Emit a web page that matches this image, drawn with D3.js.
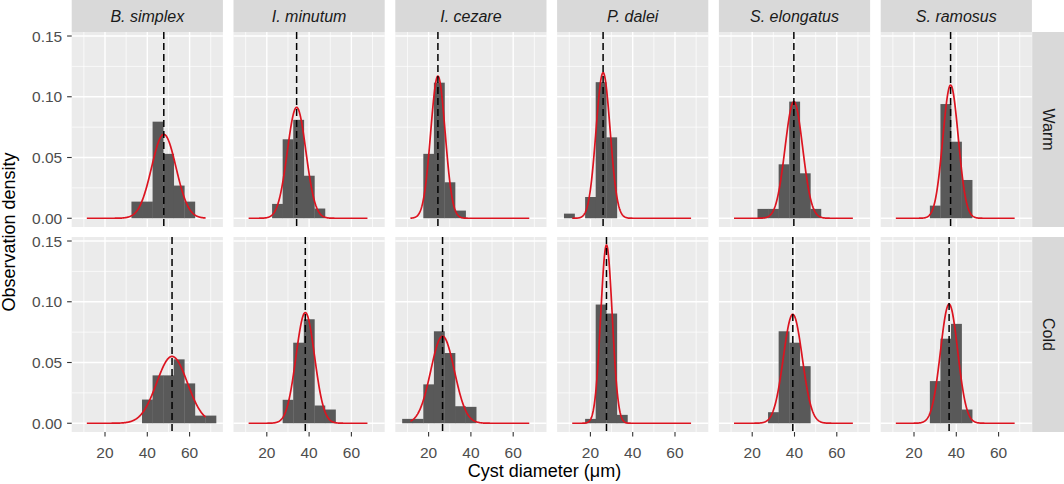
<!DOCTYPE html>
<html>
<head>
<meta charset="utf-8">
<script src="https://cdn.jsdelivr.net/npm/d3@7"></script>
<style>
  html, body { margin: 0; padding: 0; background: #ffffff; }
  svg { display: block; font-family: "Liberation Sans", Arial, sans-serif; }
</style>
</head>
<body>
<svg id="chart" width="1064" height="484"></svg>
<script>
// ---------------- DATA ----------------
const species = ["B. simplex", "I. minutum", "I. cezare", "P. dalei", "S. elongatus", "S. ramosus"];
const conditions = ["Warm", "Cold"];
const binCenters = [10, 15, 20, 25, 30, 35, 40, 45, 50, 55, 60, 65, 70];
const binWidth = 5;

// histogram densities (per species, aligned with binCenters)
const warmDensity = [
  [0, 0, 0, 0, 0, 0.0137, 0.0137, 0.0795, 0.053, 0.0269, 0.0137, 0, 0],      // B. simplex
  [0, 0, 0, 0.0118, 0.065, 0.081, 0.035, 0.008, 0, 0, 0, 0, 0],              // I. minutum
  [0, 0, 0.053, 0.1116, 0.0296, 0.0063, 0, 0, 0, 0, 0, 0, 0],                // I. cezare
  [0.0038, 0, 0.0175, 0.112, 0.0666, 0, 0, 0, 0, 0, 0, 0, 0],                // P. dalei
  [0, 0, 0, 0.0077, 0.0077, 0.0444, 0.096, 0.037, 0.0077, 0, 0, 0, 0],       // S. elongatus
  [0, 0, 0, 0, 0.0104, 0.094, 0.063, 0.0315, 0, 0, 0, 0, 0]                  // S. ramosus
];
const coldDensity = [
  [0, 0, 0, 0, 0, 0, 0.0195, 0.0394, 0.0394, 0.0526, 0.0328, 0.0063, 0.0063], // B. simplex
  [0, 0, 0, 0, 0.0193, 0.0663, 0.0856, 0.0146, 0.0113, 0, 0, 0, 0],           // I. minutum
  [0.0036, 0.0036, 0.032, 0.0757, 0.0578, 0.014, 0.0135, 0, 0, 0, 0, 0, 0],   // I. cezare
  [0, 0, 0.0036, 0.0977, 0.0903, 0.0069, 0, 0, 0, 0, 0, 0, 0],                // P. dalei
  [0, 0, 0, 0, 0.0091, 0.0757, 0.0663, 0.047, 0, 0, 0, 0, 0],                 // S. elongatus
  [0, 0, 0, 0, 0.0347, 0.0696, 0.0818, 0.0113, 0, 0, 0, 0, 0]                 // S. ramosus
];

// fitted normal parameters (mean = dashed line)
const warmMean = [47.8, 34.1, 24.4, 26.0, 39.7, 37.3];
const warmSd   = [5.78, 4.37, 3.41, 3.33, 4.16, 3.64];
const coldMean = [51.7, 38.2, 26.6, 27.6, 39.2, 36.6];
const coldSd   = [7.25, 4.38, 5.57, 2.72, 4.45, 4.07];
const curveRange = [11.4, 67.6];

const xTicks = [20, 40, 60];
const xMinor = [10, 30, 50, 70];
const yTicks = [0, 0.05, 0.10, 0.15];
const yMinor = [0.025, 0.075, 0.125];
const xTitle = "Cyst diameter (\u03BCm)";
const yTitle = "Observation density";

// ---------------- LAYOUT ----------------
const svg = d3.select("#chart");
const panelLeft = 71.7, panelW = 151.2, gapX = 10.6;
const panelTops = [32, 237], panelH = 195;
const stripH = 32, stripW = 32;

const x = d3.scaleLinear().domain([4.25, 75.75]).range([0, panelW]);
const y = d3.scaleLinear().domain([-0.0072, 0.1533]).range([panelH, 0]);

const axisTextColor = "#4D4D4D";
const tickColor = "#333333";
const redCol = "#DC1420";

function normal(v, m, s) {
  return Math.exp(-0.5 * ((v - m) / s) ** 2) / (s * Math.sqrt(2 * Math.PI));
}

const allDensity = [warmDensity, coldDensity];
const allMean = [warmMean, coldMean];
const allSd = [warmSd, coldSd];

conditions.forEach((cond, r) => {
  species.forEach((sp, c) => {
    const px = panelLeft + c * (panelW + gapX);
    const py = panelTops[r];
    const g = svg.append("g").attr("transform", `translate(${px},${py})`);

    // background
    g.append("rect").attr("width", panelW).attr("height", panelH).attr("fill", "#EBEBEB");

    // minor gridlines
    g.selectAll(".xminor").data(xMinor).enter().append("line")
      .attr("x1", d => x(d)).attr("x2", d => x(d)).attr("y1", 0).attr("y2", panelH)
      .attr("stroke", "#FFFFFF").attr("stroke-width", 0.7);
    g.selectAll(".yminor").data(yMinor).enter().append("line")
      .attr("y1", d => y(d)).attr("y2", d => y(d)).attr("x1", 0).attr("x2", panelW)
      .attr("stroke", "#FFFFFF").attr("stroke-width", 0.7);
    // major gridlines
    g.selectAll(".xmajor").data(xTicks).enter().append("line")
      .attr("x1", d => x(d)).attr("x2", d => x(d)).attr("y1", 0).attr("y2", panelH)
      .attr("stroke", "#FFFFFF").attr("stroke-width", 1.4);
    g.selectAll(".ymajor").data(yTicks).enter().append("line")
      .attr("y1", d => y(d)).attr("y2", d => y(d)).attr("x1", 0).attr("x2", panelW)
      .attr("stroke", "#FFFFFF").attr("stroke-width", 1.4);

    // histogram bars
    const dens = allDensity[r][c];
    const bars = binCenters.map((b, i) => ({ b, d: dens[i] })).filter(o => o.d > 0);
    g.selectAll(".bar").data(bars).enter().append("rect")
      .attr("x", d => x(d.b - binWidth / 2))
      .attr("width", d => x(d.b + binWidth / 2) - x(d.b - binWidth / 2) + 0.3)
      .attr("y", d => y(d.d))
      .attr("height", d => y(0) - y(d.d))
      .attr("fill", "#595959");

    // normal curve
    const m = allMean[r][c], s = allSd[r][c];
    const pts = d3.range(0, 301).map(i => {
      const v = curveRange[0] + (curveRange[1] - curveRange[0]) * i / 300;
      return [v, normal(v, m, s)];
    });
    g.append("path").datum(pts)
      .attr("d", d3.line().x(d => x(d[0])).y(d => y(d[1])))
      .attr("fill", "none").attr("stroke", redCol).attr("stroke-width", 1.7);

    // mean dashed line
    g.append("line")
      .attr("x1", x(m)).attr("x2", x(m)).attr("y1", 0).attr("y2", panelH)
      .attr("stroke", "#000000").attr("stroke-width", 1.5)
      .attr("stroke-dasharray", "7,4");

    // top strip
    if (r === 0) {
      svg.append("rect").attr("x", px).attr("y", 0).attr("width", panelW).attr("height", stripH)
        .attr("fill", "#D9D9D9");
      svg.append("text").attr("x", px + panelW / 2).attr("y", stripH / 2).attr("dy", "0.35em")
        .attr("text-anchor", "middle").attr("font-size", 16).attr("font-style", "italic")
        .attr("fill", "#1A1A1A").text(sp);
    }

    // x axis on bottom row
    if (r === 1) {
      const ax = svg.append("g").attr("transform", `translate(${px},${py + panelH})`);
      ax.selectAll("line").data(xTicks).enter().append("line")
        .attr("x1", d => x(d)).attr("x2", d => x(d)).attr("y1", 0).attr("y2", 4.6)
        .attr("stroke", tickColor).attr("stroke-width", 1.1);
      ax.selectAll("text").data(xTicks).enter().append("text")
        .attr("x", d => x(d)).attr("y", 25.5).attr("text-anchor", "middle")
        .attr("font-size", 15.5).attr("fill", axisTextColor).text(d => d);
    }

    // y axis on left column
    if (c === 0) {
      const ay = svg.append("g").attr("transform", `translate(${px},${py})`);
      ay.selectAll("line").data(yTicks).enter().append("line")
        .attr("x1", -4.6).attr("x2", 0).attr("y1", d => y(d)).attr("y2", d => y(d))
        .attr("stroke", tickColor).attr("stroke-width", 1.1);
      ay.selectAll("text").data(yTicks).enter().append("text")
        .attr("x", -9.5).attr("y", d => y(d)).attr("dy", "0.36em").attr("text-anchor", "end")
        .attr("font-size", 15.5).attr("fill", axisTextColor).text(d => d3.format(".2f")(d));
    }

    // right strip
    if (c === species.length - 1) {
      const sx = px + panelW + 0.3;
      svg.append("rect").attr("x", sx).attr("y", py).attr("width", stripW).attr("height", panelH)
        .attr("fill", "#D9D9D9");
      svg.append("text")
        .attr("transform", `translate(${sx + stripW / 2},${py + panelH / 2}) rotate(90)`)
        .attr("dy", "0.35em").attr("text-anchor", "middle").attr("font-size", 16)
        .attr("fill", "#1A1A1A").text(cond);
    }
  });
});

// axis titles
svg.append("text").attr("x", 544.5).attr("y", 476.5)
  .attr("text-anchor", "middle").attr("font-size", 18).attr("fill", "#000000").text(xTitle);
svg.append("text")
  .attr("transform", `translate(15,${(panelTops[0] + panelTops[1] + panelH) / 2}) rotate(-90)`)
  .attr("text-anchor", "middle").attr("font-size", 18).attr("fill", "#000000").text(yTitle);
</script>
</body>
</html>
